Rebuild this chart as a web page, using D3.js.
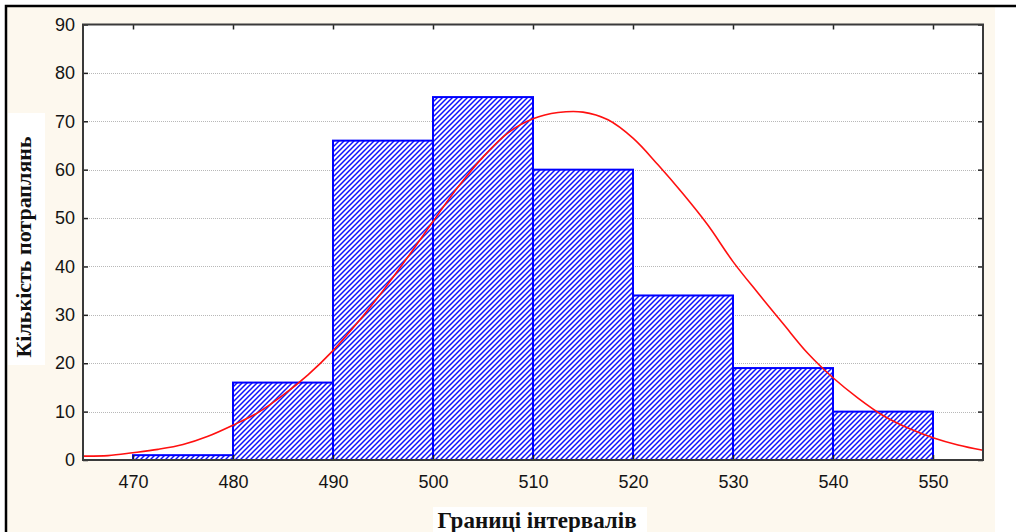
<!DOCTYPE html>
<html>
<head>
<meta charset="utf-8">
<script src="https://cdn.jsdelivr.net/npm/d3@7"></script>
<style>
  body { margin: 0; background: #fff; }
  svg { display: block; }
</style>
</head>
<body>
<div id="container"></div>
<script>
// histogram bins (lower edges), counts per bin, bin width
const binStarts = [470, 480, 490, 500, 510, 520, 530, 540],
  counts = [1, 16, 66, 75, 60, 34, 19, 10],
  binWidth = 10;

// fitted normal curve
const curveX = [465, 467.5, 470, 472.5, 475, 477.5, 480, 482.5, 485, 487.5, 490, 492.5, 495, 497.5,
    500, 502.5, 505, 507.5, 510, 512.5, 515, 517.5, 520, 522.5, 525, 527.5, 530, 532.5, 535,
    537.5, 540, 542.5, 545, 547.5, 550, 552.5, 555],
  curveY = [0.8, 0.9, 1.5, 2.2, 3.2, 4.9, 7.2, 9.8, 13.4, 17.6, 22.6, 28.5, 35.0, 42.0,
    49.3, 56.4, 62.6, 67.6, 70.5, 71.8, 71.9, 70.3, 66.5, 61.0, 55.0, 48.5, 41.0, 34.5, 28.2,
    22.0, 17.0, 12.8, 9.2, 6.6, 4.6, 3.1, 2.0];

const xTicks = [470, 480, 490, 500, 510, 520, 530, 540, 550],
  yTicks = [0, 10, 20, 30, 40, 50, 60, 70, 80, 90],
  xTitle = 'Границі інтервалів',
  yTitle = 'Кількість потраплянь';

const W = 1016, H = 532,
  plot = { left: 83, right: 983, top: 24.5, bottom: 460 };

const svg = d3.select('#container')
  .append('svg')
    .attr('width', W)
    .attr('height', H);

const defs = svg.append('defs');
const hatch = defs.append('pattern')
  .attr('id', 'hatch')
  .attr('patternUnits', 'userSpaceOnUse')
  .attr('width', 5)
  .attr('height', 5);
hatch.append('rect').attr('width', 5).attr('height', 5).attr('fill', '#fff');
hatch.append('path')
  .attr('d', 'M-1,1 l2,-2 M0,5 l5,-5 M4,6 l2,-2')
  .attr('stroke', '#1010ff')
  .attr('stroke-width', 1.5);

// outer frame + cream panel
svg.append('rect')
  .attr('x', 7).attr('y', 7)
  .attr('width', 988).attr('height', H - 7)
  .attr('fill', '#fdf8ee');
svg.append('path')
  .attr('d', `M6,${H} V6 H${W}`)
  .attr('fill', 'none')
  .attr('stroke', '#000')
  .attr('stroke-width', 2.5);

// white boxes behind titles
svg.append('rect')
  .attr('x', 8).attr('y', 113).attr('width', 37).attr('height', 252)
  .attr('fill', '#fff');
svg.append('rect')
  .attr('x', 433).attr('y', 507).attr('width', 214).attr('height', 25)
  .attr('fill', '#fff');

const x = d3.scaleLinear()
  .domain([465, 555])
  .range([plot.left, plot.right]);
const y = d3.scaleLinear()
  .domain([0, 90])
  .range([plot.bottom, plot.top]);

// plot background
svg.append('rect')
  .attr('x', plot.left).attr('y', plot.top)
  .attr('width', plot.right - plot.left).attr('height', plot.bottom - plot.top)
  .attr('fill', '#fff');

// grid
svg.append('g')
  .selectAll('line')
  .data(yTicks.filter(d => d > 0 && d < 90))
  .enter()
  .append('line')
    .attr('x1', plot.left + 6)
    .attr('x2', plot.right - 6)
    .attr('y1', d => Math.round(y(d)) + 0.5)
    .attr('y2', d => Math.round(y(d)) + 0.5)
    .attr('stroke', '#b8b8b8')
    .attr('stroke-dasharray', '1,1');

// bars
svg.append('g')
  .selectAll('rect')
  .data(binStarts.map((d, i) => ({ x0: d, x1: d + binWidth, n: counts[i] })))
  .enter()
  .append('rect')
    .attr('x', d => x(d.x0))
    .attr('y', d => y(d.n))
    .attr('width', d => x(d.x1) - x(d.x0))
    .attr('height', d => y(0) - y(d.n))
    .attr('fill', 'url(#hatch)')
    .attr('stroke', '#0000ff')
    .attr('stroke-width', 2);

// normal curve
const line = d3.line()
  .x((d, i) => x(curveX[i]))
  .y(d => y(d))
  .curve(d3.curveCatmullRom);
svg.append('path')
  .datum(curveY)
  .attr('d', line)
  .attr('fill', 'none')
  .attr('stroke', '#ff1010')
  .attr('stroke-width', 1.6);

// axes, ticks pointing inward
const tickFont = g => g.selectAll('text')
  .attr('font-family', '"Liberation Sans", Arial, sans-serif')
  .attr('font-size', 18)
  .attr('fill', '#141414');

svg.append('g')
  .attr('transform', `translate(${plot.left},0)`)
  .call(d3.axisLeft(y).tickValues(yTicks).tickSize(-5).tickPadding(8))
  .call(g => g.select('.domain').remove())
  .call(tickFont);
svg.append('g')
  .attr('transform', `translate(${plot.right},0)`)
  .call(d3.axisRight(y).tickValues(yTicks).tickSize(-5).tickFormat(''))
  .call(g => g.select('.domain').remove());
svg.append('g')
  .attr('transform', `translate(0,${plot.bottom})`)
  .call(d3.axisBottom(x).tickValues(xTicks).tickSize(-5).tickPadding(15))
  .call(g => g.select('.domain').remove())
  .call(tickFont);
svg.append('g')
  .attr('transform', `translate(0,${plot.top})`)
  .call(d3.axisTop(x).tickValues(xTicks).tickSize(-5).tickFormat(''))
  .call(g => g.select('.domain').remove());

svg.selectAll('.tick line').attr('stroke', '#222').attr('stroke-width', 1.5);

// frame
svg.append('rect')
  .attr('x', plot.left).attr('y', plot.top)
  .attr('width', plot.right - plot.left).attr('height', plot.bottom - plot.top)
  .attr('fill', 'none')
  .attr('stroke', '#3a3a3a')
  .attr('stroke-width', 2);

// titles
svg.append('text')
  .attr('transform', 'translate(31,247) rotate(-90)')
  .attr('text-anchor', 'middle')
  .attr('font-family', '"Liberation Serif", "Times New Roman", serif')
  .attr('font-weight', 'bold')
  .attr('font-size', 22)
  .attr('fill', '#111')
  .text(yTitle);
svg.append('text')
  .attr('x', 537).attr('y', 528)
  .attr('text-anchor', 'middle')
  .attr('font-family', '"Liberation Serif", "Times New Roman", serif')
  .attr('font-weight', 'bold')
  .attr('font-size', 23)
  .attr('fill', '#111')
  .text(xTitle);
</script>
</body>
</html>
